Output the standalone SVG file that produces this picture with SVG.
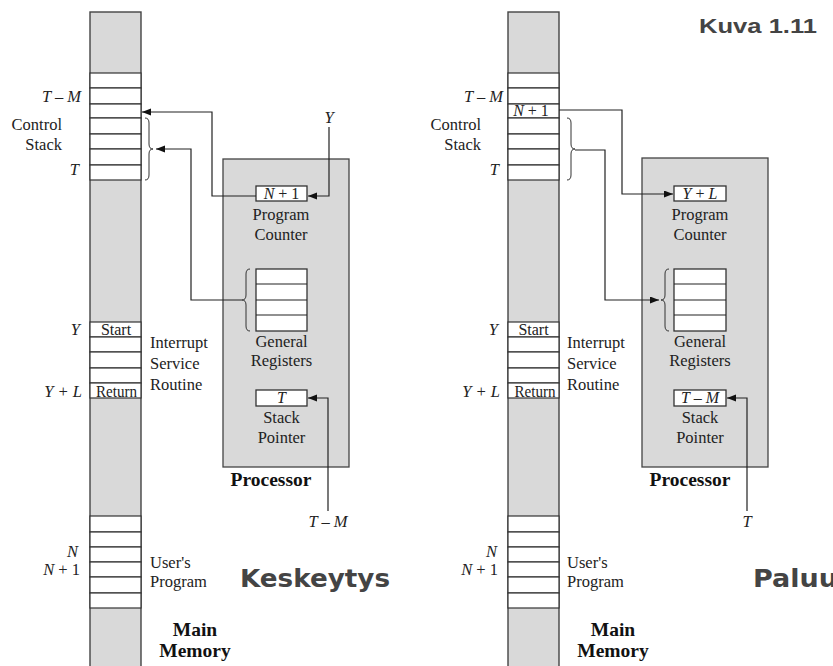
<svg xmlns="http://www.w3.org/2000/svg" width="833" height="666" viewBox="0 0 833 666">
<style>
.mem{fill:#d9d9d9;stroke:#444;stroke-width:1.4}
.cell{fill:#fff;stroke:#333;stroke-width:1.2}
.proc{fill:#d9d9d9;stroke:#444;stroke-width:1.3}
.box{fill:#fff;stroke:#333;stroke-width:1.3}
.br{fill:none;stroke:#333;stroke-width:1}
.ln{fill:none;stroke:#222;stroke-width:1.2}
text{font-family:"Liberation Serif","Times New Roman",serif;font-size:16.5px;fill:#222}
.i{font-style:italic}
.s{font-size:15px}
.c{font-size:16px}
.b{font-weight:bold;font-size:19.5px;fill:#111}
.e{text-anchor:end}
.m{text-anchor:middle}
.big{font-family:"DejaVu Sans","Liberation Sans",sans-serif;font-weight:bold;font-size:24px;fill:#444}
.kuva{font-family:"Liberation Sans",Arial,sans-serif;font-weight:bold;font-size:20px;fill:#444}
</style>
<defs>
<marker id="ah" markerUnits="userSpaceOnUse" markerWidth="10" markerHeight="8" refX="9" refY="3.5" orient="auto">
<path d="M0,0 L9,3.5 L0,7 Z" fill="#111"/>
</marker>
</defs>

<!-- LEFT: Main memory -->
<g id="memory-left">
<rect class="mem" x="90" y="12" width="51" height="670"/>
<rect class="cell" x="90" y="73" width="51" height="15"/>
<rect class="cell" x="90" y="88" width="51" height="16"/>
<rect class="cell" x="90" y="104" width="51" height="14"/>
<rect class="cell" x="90" y="118" width="51" height="16"/>
<rect class="cell" x="90" y="134" width="51" height="15"/>
<rect class="cell" x="90" y="149" width="51" height="16"/>
<rect class="cell" x="90" y="165" width="51" height="15"/>
<rect class="cell" x="90" y="322" width="51" height="15"/>
<rect class="cell" x="90" y="337" width="51" height="15"/>
<rect class="cell" x="90" y="352" width="51" height="16"/>
<rect class="cell" x="90" y="368" width="51" height="15"/>
<rect class="cell" x="90" y="383" width="51" height="15"/>
<rect class="cell" x="90" y="516" width="51" height="16"/>
<rect class="cell" x="90" y="532" width="51" height="15"/>
<rect class="cell" x="90" y="547" width="51" height="15"/>
<rect class="cell" x="90" y="562" width="51" height="15"/>
<rect class="cell" x="90" y="577" width="51" height="16"/>
<rect class="cell" x="90" y="593" width="51" height="15"/>
<text class="i e" x="81" y="102">T – M</text>
<text class="e" x="62" y="130">Control</text>
<text class="e" x="62" y="150">Stack</text>
<text class="i e" x="79" y="175">T</text>
<path class="br" d="M145,118 q4,0 4,5 v21 q0,5 4,5 q-4,0 -4,5 v21 q0,5 -4,5"/>
<text class="i e" x="80" y="335">Y</text>
<text class="m c" x="116" y="335">Start</text>
<text class="i e" x="82" y="397">Y + L</text>
<text class="m c" x="116.5" y="397" textLength="41" lengthAdjust="spacingAndGlyphs">Return</text>
<text x="150" y="348">Interrupt</text>
<text x="150" y="369">Service</text>
<text x="150" y="390">Routine</text>
<text class="i e" x="78" y="557">N</text>
<text class="e" x="80" y="575"><tspan class="i">N</tspan> + 1</text>
<text x="150" y="568">User's</text>
<text x="150" y="587">Program</text>
<text class="b m" x="195" y="636">Main</text>
<text class="b m" x="195" y="657">Memory</text>
</g>

<!-- LEFT: Processor -->
<g id="processor-left">
<rect class="proc" x="223" y="159" width="126" height="308"/>
<rect class="box" x="256" y="186" width="51" height="15"/>
<text class="c m" x="281.5" y="199"><tspan class="i">N</tspan> + 1</text>
<text class="m" x="281" y="220">Program</text>
<text class="m" x="281" y="240">Counter</text>
<rect class="box" x="256" y="269" width="51" height="62"/>
<path class="ln" d="M256,284 H307 M256,300 H307 M256,315 H307"/>
<path class="br" d="M250,269 q-4,0 -4,5 v21 q0,5 -4,5 q4,0 4,5 v21 q0,5 4,5"/>
<text class="m" x="281.5" y="347">General</text>
<text class="m" x="281.5" y="366">Registers</text>
<rect class="box" x="256" y="390" width="51" height="16"/>
<text class="c i m" x="281.5" y="403">T</text>
<text class="m" x="281.5" y="423">Stack</text>
<text class="m" x="281.5" y="443">Pointer</text>
<text class="b m" x="271" y="486">Processor</text>
</g>

<!-- RIGHT: Main memory -->
<g id="memory-right">
<rect class="mem" x="508" y="12" width="51" height="670"/>
<rect class="cell" x="508" y="73" width="51" height="15"/>
<rect class="cell" x="508" y="88" width="51" height="16"/>
<rect class="cell" x="508" y="104" width="51" height="14"/>
<rect class="cell" x="508" y="118" width="51" height="16"/>
<rect class="cell" x="508" y="134" width="51" height="15"/>
<rect class="cell" x="508" y="149" width="51" height="16"/>
<rect class="cell" x="508" y="165" width="51" height="15"/>
<rect class="cell" x="508" y="322" width="51" height="15"/>
<rect class="cell" x="508" y="337" width="51" height="15"/>
<rect class="cell" x="508" y="352" width="51" height="16"/>
<rect class="cell" x="508" y="368" width="51" height="15"/>
<rect class="cell" x="508" y="383" width="51" height="15"/>
<rect class="cell" x="508" y="516" width="51" height="16"/>
<rect class="cell" x="508" y="532" width="51" height="15"/>
<rect class="cell" x="508" y="547" width="51" height="15"/>
<rect class="cell" x="508" y="562" width="51" height="15"/>
<rect class="cell" x="508" y="577" width="51" height="16"/>
<rect class="cell" x="508" y="593" width="51" height="15"/>
<text class="i e" x="503" y="102">T – M</text>
<text class="c m" x="531" y="116"><tspan class="i">N</tspan> + 1</text>
<text class="e" x="481" y="130">Control</text>
<text class="e" x="481" y="150">Stack</text>
<text class="i e" x="499" y="175">T</text>
<path class="br" d="M567,118 q4,0 4,5 v21 q0,5 4,5 q-4,0 -4,5 v21 q0,5 -4,5"/>
<text class="i e" x="498" y="335">Y</text>
<text class="m c" x="533.5" y="335">Start</text>
<text class="i e" x="500" y="397">Y + L</text>
<text class="m c" x="535" y="397" textLength="41" lengthAdjust="spacingAndGlyphs">Return</text>
<text x="567" y="348">Interrupt</text>
<text x="567" y="369">Service</text>
<text x="567" y="390">Routine</text>
<text class="i e" x="497" y="557">N</text>
<text class="e" x="498" y="575"><tspan class="i">N</tspan> + 1</text>
<text x="567" y="568">User's</text>
<text x="567" y="587">Program</text>
<text class="b m" x="613" y="636">Main</text>
<text class="b m" x="613" y="657">Memory</text>
</g>

<!-- RIGHT: Processor -->
<g id="processor-right">
<rect class="proc" x="642" y="158" width="126" height="309"/>
<rect class="box" x="674" y="186" width="52" height="15"/>
<text class="c i m" x="700" y="199">Y <tspan font-style="normal">+</tspan> L</text>
<text class="m" x="700" y="220">Program</text>
<text class="m" x="700" y="240">Counter</text>
<rect class="box" x="674" y="269" width="52" height="62"/>
<path class="ln" d="M674,284 H726 M674,300 H726 M674,315 H726"/>
<path class="br" d="M669,269 q-4,0 -4,5 v21 q0,5 -4,5 q4,0 4,5 v21 q0,5 4,5"/>
<text class="m" x="700" y="347">General</text>
<text class="m" x="700" y="366">Registers</text>
<rect class="box" x="674" y="390" width="52" height="16"/>
<text class="c i m" x="700" y="403">T – M</text>
<text class="m" x="700" y="423">Stack</text>
<text class="m" x="700" y="443">Pointer</text>
<text class="b m" x="690" y="486">Processor</text>
</g>

<!-- Connectors -->
<g id="connectors">
<path class="ln" d="M256,196 H212 V112 H142" marker-end="url(#ah)"/>
<path class="ln" d="M242,300 H191 V149 H156" marker-end="url(#ah)"/>
<path class="ln" d="M329,127 V196 H308" marker-end="url(#ah)"/>
<path class="ln" d="M328,511 V398 H308" marker-end="url(#ah)"/>
<path class="ln" d="M559,110 H622 V194 H673" marker-end="url(#ah)"/>
<path class="ln" d="M575,150 H605 V300 H659" marker-end="url(#ah)"/>
<path class="ln" d="M747,511 V398 H727" marker-end="url(#ah)"/>
</g>

<!-- Free labels -->
<g id="labels">
<text class="i m" x="329" y="123">Y</text>
<text class="i m" x="328" y="527">T – M</text>
<text class="i m" x="747" y="527">T</text>
<text class="big" x="240" y="587" textLength="150" lengthAdjust="spacingAndGlyphs">Keskeytys</text>
<text class="big" x="753" y="587" textLength="85" lengthAdjust="spacingAndGlyphs">Paluu</text>
<text class="kuva" x="699" y="33" textLength="118" lengthAdjust="spacingAndGlyphs">Kuva 1.11</text>
</g>
</svg>
